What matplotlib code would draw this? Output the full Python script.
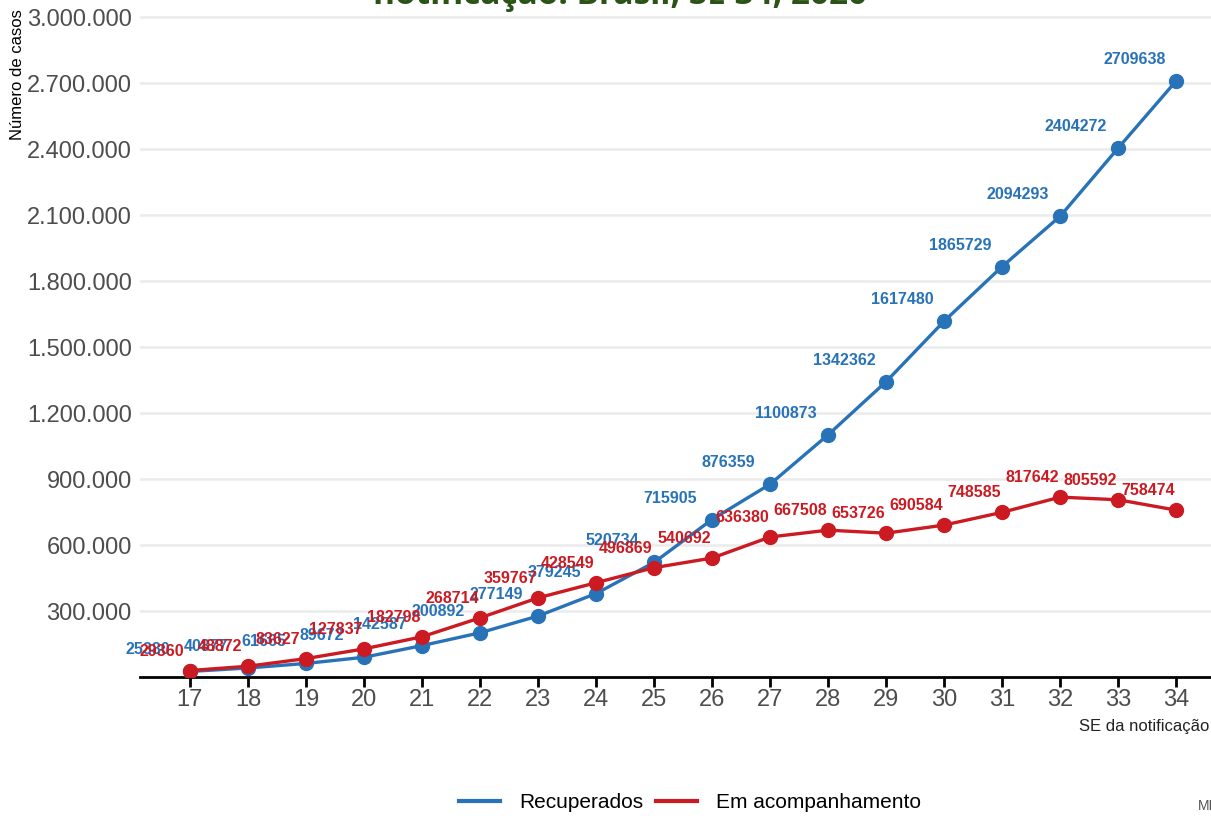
import matplotlib
matplotlib.use("Agg")
import matplotlib.pyplot as plt
from matplotlib.ticker import FuncFormatter

# semanas epidemiologicas e casos
semanas = list(range(17, 35))
recuperados = [25380, 40877, 61665, 89672, 142587, 200892, 277149, 379245, 520734,
               715905, 876359, 1100873, 1342362, 1617480, 1865729, 2094293, 2404272, 2709638]
acompanhamento = [29360, 48872, 83627, 127837, 182798, 268714, 359767, 428549, 496869,
                  540692, 636380, 667508, 653726, 690584, 748585, 817642, 805592, 758474]
yticks = list(range(300000, 3000001, 300000))

azul = "#2873b8"
vermelho = "#cc1a22"
cinza = "#4d4d4d"

plt.rcParams["font.family"] = ["Liberation Sans", "DejaVu Sans"]

fig = plt.figure(figsize=(12.11, 8.16), dpi=100)
ax = fig.add_axes([140 / 1211, 1 - 677 / 816, 1 - 140 / 1211, 667 / 816])

ax.plot(semanas, recuperados, color=azul, lw=2.4, marker="o", ms=10, label="Recuperados", zorder=3)
ax.plot(semanas, acompanhamento, color=vermelho, lw=2.4, marker="o", ms=10, label="Em acompanhamento", zorder=4)

for x, v in zip(semanas, recuperados):
    ax.annotate(str(v), (x, v), xytext=(-42, 14), textcoords="offset pixels",
                ha="center", va="bottom", color=azul, fontsize=11.5, fontweight="bold", zorder=5)
for x, v in zip(semanas, acompanhamento):
    ax.annotate(str(v), (x, v), xytext=(-28, 12), textcoords="offset pixels",
                ha="center", va="bottom", color=vermelho, fontsize=11.5, fontweight="bold", zorder=5)

ax.set_xlim(16.14, 34.6)
ax.set_ylim(0, 3000000 * 667 / 660)
ax.set_xticks(semanas)
ax.set_yticks(yticks)
ax.yaxis.set_major_formatter(FuncFormatter(lambda v, p: f"{int(v):,}".replace(",", ".")))

ax.grid(axis="y", color="#ebebeb", lw=1.8)
ax.set_axisbelow(True)
for s in ["top", "right", "left"]:
    ax.spines[s].set_visible(False)
ax.spines["bottom"].set_linewidth(2)
ax.tick_params(axis="y", length=0, labelsize=17, labelcolor=cinza, pad=6)
ax.tick_params(axis="x", length=7, width=2, labelsize=17, labelcolor=cinza, pad=2)

fig.text(18 / 1211, 1 - 75 / 816, "Número de casos", rotation=90, ha="center", va="center", fontsize=12)
fig.text(1209 / 1211, 1 - 727 / 816, "SE da notificação", ha="right", va="center", fontsize=12, color="#222222")

# titulo cortado no topo
fig.text(620 / 1211, 1 - 4 / 816, "notificação. Brasil, SE 34, 2020", ha="center", va="baseline",
         fontsize=24, fontweight="bold", color="#2b5317", family=["Open Sans", "DejaVu Sans"])
fig.text(1198 / 1211, 1 - 806 / 816, "MI", ha="left", va="center", fontsize=10, color="#555555")

leg = fig.legend(loc="center", bbox_to_anchor=(690 / 1211, 1 - 803 / 816), ncol=2, frameon=False,
                 fontsize=15, handlelength=2, handletextpad=0.9, columnspacing=0.6)
for h in leg.legend_handles:
    h.set_marker("")
    h.set_linewidth(3)

fig.savefig("out.png", dpi=100)
